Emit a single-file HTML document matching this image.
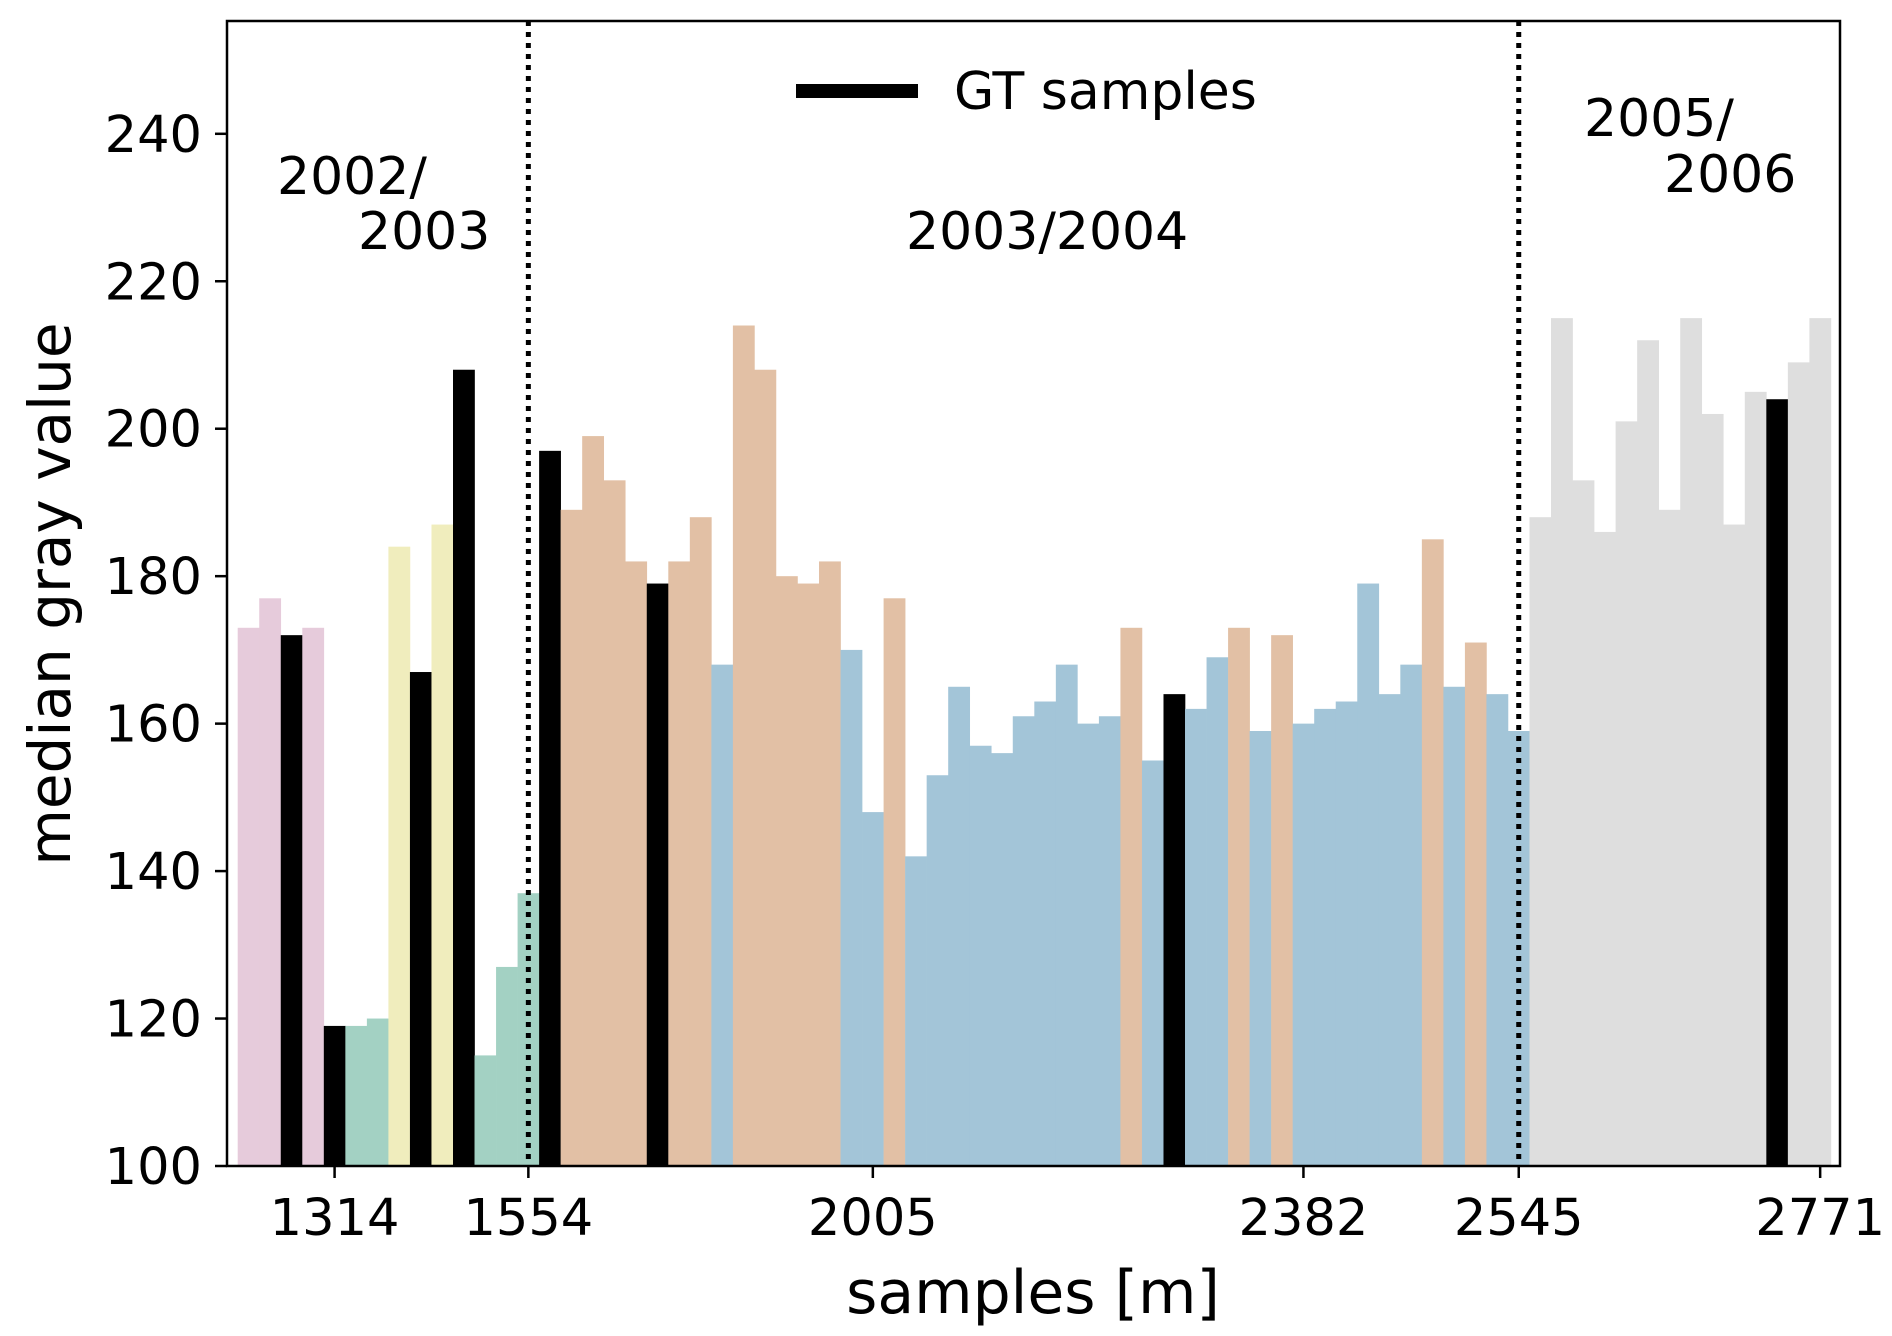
<!DOCTYPE html>
<html><head><meta charset="utf-8"><style>
html,body{margin:0;padding:0;background:#fff;}
svg{display:block;font-family:"DejaVu Sans","Liberation Sans",sans-serif;}
</style></head><body>
<svg id="chart" width="1892" height="1336" viewBox="0 0 1892 1336" xmlns="http://www.w3.org/2000/svg">
<rect width="1892" height="1336" fill="#fff"/>
<g id="bars"></g>
<g id="vlines"></g>
<g id="axes"></g>
<g>
<line x1="796" y1="91" x2="918" y2="91" stroke="#000" stroke-width="14"/>
<text x="954" y="109" font-size="52">GT samples</text>
</g>
<text font-size="52"><tspan x="277" y="194">2002/</tspan><tspan x="358" y="249">2003</tspan></text>
<text font-size="52" x="906" y="249">2003/2004</text>
<text font-size="52"><tspan x="1584" y="136">2005/</tspan><tspan x="1664" y="192">2006</tspan></text>
<text x="1033" y="1313" font-size="60" text-anchor="middle">samples [m]</text>
<text transform="translate(70,594) rotate(-90)" font-size="58" text-anchor="middle">median gray value</text>
</svg>
<script>
// data
const values = [173,177,172,173,119,119,120,184,167,187,208,115,127,137,197,189,199,193,182,179,182,188,168,214,208,180,179,182,170,148,177,142,153,165,157,156,161,163,168,160,161,173,155,164,162,169,173,159,172,160,162,163,179,164,168,185,165,171,164,159,188,215,193,186,201,212,189,215,202,187,205,204,209,215];
const groups = "ppkpk"+"gg"+"ykyk"+"ggg"+"k"+"oooo"+"k"+"oo"+"b"+"ooooo"+"bb"+"o"+"bbbbbbbbbb"+"o"+"b"+"k"+"bb"+"o"+"b"+"o"+"bbbbbb"+"o"+"b"+"o"+"bb"+"wwwwwwwwwww"+"k"+"ww";
const yTicks = [100,120,140,160,180,200,220,240];
const xTickIdx = [4,13,29,49,59,73];
const xTickLabels = ["1314","1554","2005","2382","2545","2771"];
const dividerIdx = [13,59];

const colors = {p:"#e6cbdb",g:"#a3d1c3",y:"#f0edbd",k:"#000000",o:"#e2c0a5",b:"#a3c5d8",w:"#dedede"};
const L=227,R=1840,T=21,B=1166,yMin=100,yMax=255.3;
const x0=237.7,bw=21.53;
const xPos=i=>x0+i*bw;
const yPos=v=>B-(v-yMin)/(yMax-yMin)*(B-T);
const NS="http://www.w3.org/2000/svg";
function mk(tag,attrs,parent){const e=document.createElementNS(NS,tag);for(const k in attrs)e.setAttribute(k,attrs[k]);parent.appendChild(e);return e;}
const gb=document.getElementById('bars');
values.forEach((v,i)=>{
  const r=mk('rect',{x:xPos(i),y:yPos(v),width:bw+0.3,height:B-yPos(v),fill:colors[groups[i]]||"#a3c5d8"},gb);
  
  
});
const gv=document.getElementById('vlines');
dividerIdx.forEach(i=>{
  const l=mk('line',{x1:xPos(i)+bw/2,x2:xPos(i)+bw/2,y1:T,y2:B,stroke:"#000","stroke-width":5,"stroke-dasharray":"5,6"},gv);
  
  
});
const ga=document.getElementById('axes');
const fr=mk('rect',{x:L,y:T,width:R-L,height:B-T,fill:"none",stroke:"#000","stroke-width":2.5},ga);


yTicks.forEach(t=>{
  const y=yPos(t);
  const tk=mk('line',{x1:L-12,x2:L,y1:y,y2:y,stroke:"#000","stroke-width":2.5},ga);
  
  
  const tx=mk('text',{x:L-25,y:y+18,"font-size":51,"text-anchor":"end"},ga);
  tx.textContent=t;
  
  
});
xTickIdx.forEach((i,k)=>{
  const x=xPos(i)+bw/2;
  const tk=mk('line',{x1:x,x2:x,y1:B,y2:B+12,stroke:"#000","stroke-width":2.5},ga);
  
  
  const tx=mk('text',{x:x,y:1235,"font-size":51,"text-anchor":"middle"},ga);
  tx.textContent=xTickLabels[k];
  
  
});
</script>
</body></html>
